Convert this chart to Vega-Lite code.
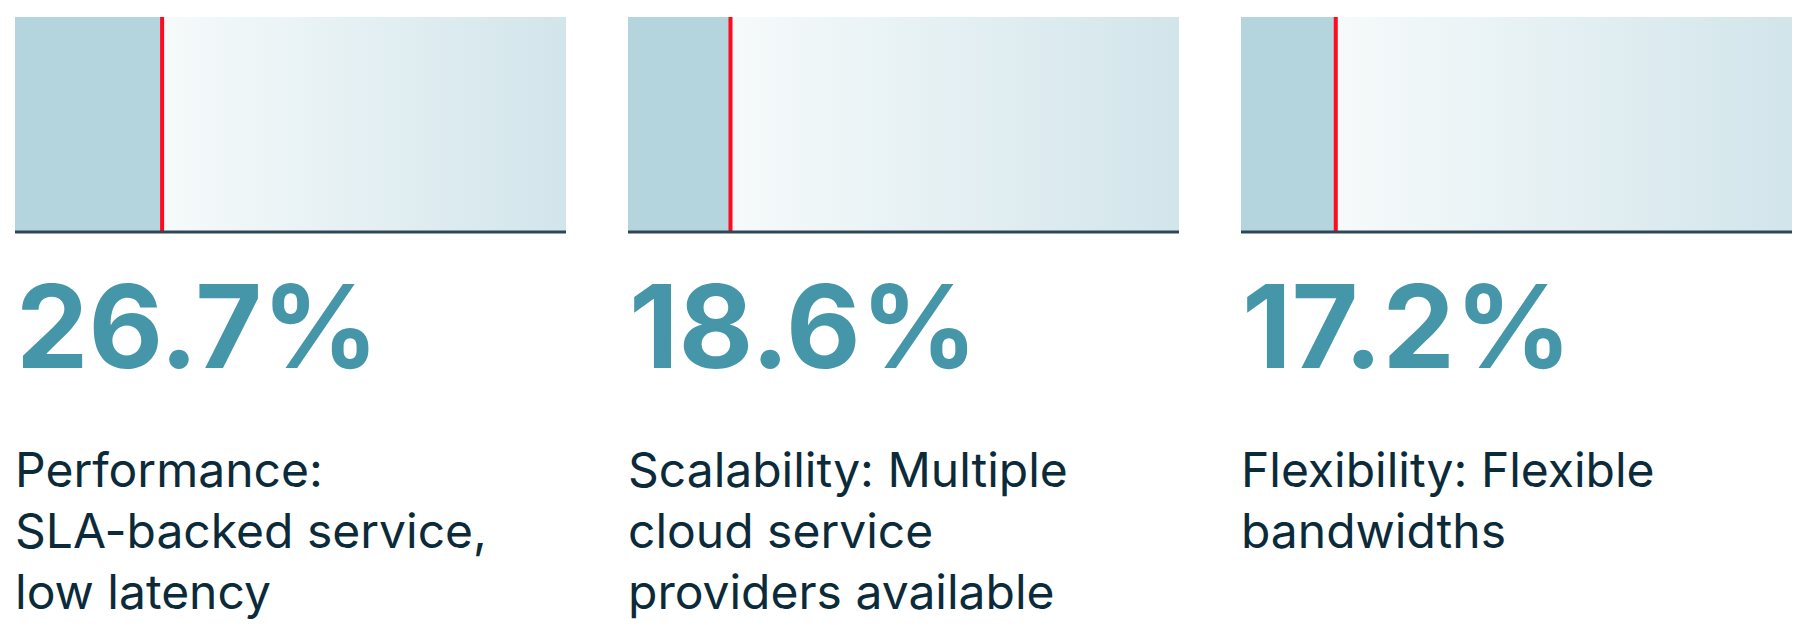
{
  "$schema": "https://vega.github.io/schema/vega-lite/v6.json",
  "background": "#ffffff",
  "padding": {"left": 13, "top": 15, "right": 0, "bottom": 0},
  "bounds": "flush",
  "config": {"view": {"stroke": null}, "font": "Inter"},
  "data": {"values": [
    {"order": 1, "category": "Performance", "value": 26.7, "label": "26.7%", "desc": "Performance:\nSLA-backed service,\nlow latency"},
    {"order": 2, "category": "Scalability", "value": 18.6, "label": "18.6%", "desc": "Scalability: Multiple\ncloud service\nproviders available"},
    {"order": 3, "category": "Flexibility", "value": 17.2, "label": "17.2%", "desc": "Flexibility: Flexible\nbandwidths"}
  ]},
  "facet": {"column": {"field": "category", "type": "nominal", "sort": ["Performance", "Scalability", "Flexibility"], "header": {"title": null, "labels": false}}},
  "spacing": 62,
  "spec": {
    "width": 551,
    "height": 215,
    "encoding": {
      "x": {"field": "value", "type": "quantitative", "scale": {"domain": [0, 100], "nice": false}, "axis": null}
    },
    "layer": [
      {
        "mark": {"type": "rect", "fill": {"gradient": "linear", "x1": 0, "y1": 0, "x2": 1, "y2": 0, "stops": [{"offset": 0, "color": "#F6FAFB"}, {"offset": 1, "color": "#D2E5EB"}]}},
        "encoding": {"x2": {"datum": 100}}
      },
      {
        "mark": {"type": "rect", "fill": "#B4D5DD"},
        "encoding": {"x2": {"datum": 0}}
      },
      {
        "mark": {"type": "rule", "color": "#FF0A1E", "strokeWidth": 4},
        "encoding": {}
      },
      {
        "mark": {"type": "rule", "color": "#2E4757", "strokeWidth": 3, "strokeCap": "butt"},
        "encoding": {
          "x": null,
          "y": {"datum": 0, "type": "quantitative", "scale": {"domain": [0, 1]}, "axis": null}
        }
      },
      {
        "mark": {"type": "text", "align": "left", "baseline": "alphabetic", "dy": 136, "dx": 1, "font": "Inter", "fontWeight": "bold", "fontSize": 115, "color": "#4596A8"},
        "encoding": {
          "x": {"datum": 0, "type": "quantitative"},
          "y": {"datum": 0, "type": "quantitative"},
          "text": {"field": "label"}
        }
      },
      {
        "mark": {"type": "text", "align": "left", "baseline": "alphabetic", "dy": 255, "font": "Inter", "fontSize": 48, "lineHeight": 61, "lineBreak": "\n", "color": "#0C2B3A"},
        "encoding": {
          "x": {"datum": 0, "type": "quantitative"},
          "y": {"datum": 0, "type": "quantitative"},
          "text": {"field": "desc"}
        }
      }
    ]
  }
}
